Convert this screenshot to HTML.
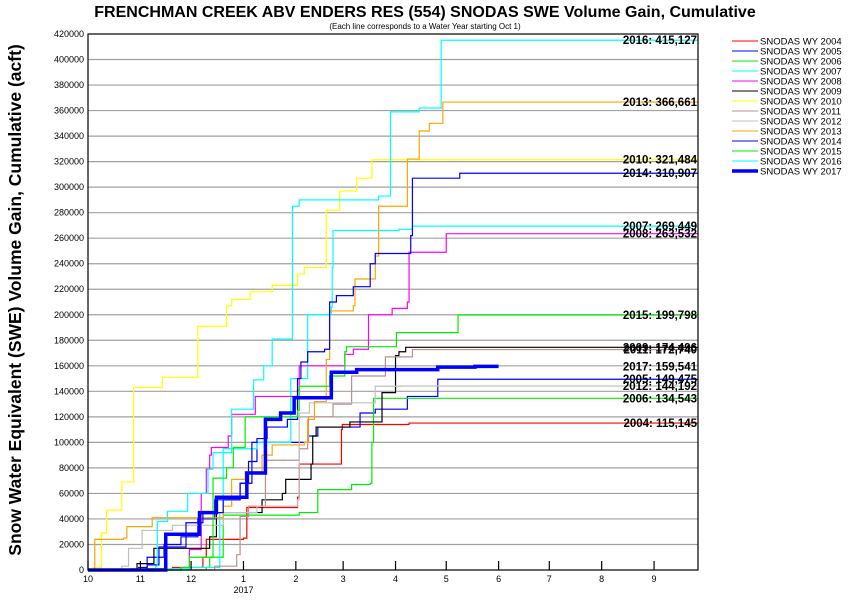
<!DOCTYPE html>
<html><head><meta charset="utf-8"><style>
body{margin:0;background:#fff;font-family:"Liberation Sans",Arial,sans-serif}
svg{display:block}
</style></head><body>
<svg id="chart" width="850" height="600" xmlns="http://www.w3.org/2000/svg">
<text x="425" y="17" text-anchor="middle" font-size="16" font-weight="bold" fill="#000">FRENCHMAN CREEK ABV ENDERS RES (554) SNODAS SWE Volume Gain, Cumulative</text>
<text x="425" y="29" text-anchor="middle" font-size="8" fill="#000">(Each line corresponds to a Water Year starting Oct 1)</text>
<text transform="translate(21,300) rotate(-90)" text-anchor="middle" font-size="17.5" font-weight="bold" fill="#000">Snow Water Equivalent (SWE) Volume Gain, Cumulative (acft)</text>
<g id="grid"></g><g id="series"></g><g id="axes"></g><g id="labels"></g><g id="legend"></g>
</svg>
<script>
const yTicks=[0,20000,40000,60000,80000,100000,120000,140000,160000,180000,200000,220000,240000,260000,280000,300000,320000,340000,360000,380000,400000,420000];
const monthDays=[0,31,61,92,123,151,182,212,243,273,304,335];
const monthLabels=["10","11","12","1","2","3","4","5","6","7","8","9"];
const years=["2004","2005","2006","2007","2008","2009","2010","2011","2012","2013","2014","2015","2016","2017"];
const colors=["#ff0000","#0000ff","#00ee00","#00ffff","#ff00ff","#000000","#ffff00","#bc8f8f","#c0c0c0","#ffa500","#0000ff","#00ee00","#00ffff","#0000ff"];
const finals=[115145,149475,134543,269449,263532,174496,321484,172740,144192,366661,310907,199798,415127,159541];
const d2004=[0,50,68,70,92,94,124,125,145,150,150.5,190];
const v2004=[0,2,10,24,25,49,57,83,83,110,114,115.145];
const d2005=[0,30,35,45,55,65,75,90,95,100,130,136,161,170,189,207];
const v2005=[0,2,10,20,26,40,55,68,85,100,105,112,123,126,136,149.475];
const d2006=[0,70,72,80,125,136,156,167,168,169];
const v2006=[0,2,10,43,45,63,67,68,100,134.543];
const d2007=[0,25,60,78,80,100,120,130,144,144.5,145,184,192];
const v2007=[0,1,2,45,95,100,150,200,206,237,266,267,269.449];
const d2008=[0,55,60,67,70,72,73,83,85,99,124,125,152,157,166,180,189,190,212];
const v2008=[0,2,16,60,79,90,96,105,122,136,141,160,169,173,200,205,210,249,263.532];
const d2009=[0,29,39,72,76,103,115,117,132,133,135,155,174,182,184,188];
const v2009=[0,5,17,26,45,55,60,71,83,105,112,116,139,168,171,174.496];
const d2010=[0,3,8,11,20,27,44,65,82,85,96,109,124,128,141,149,159,168];
const v2010=[0,2,29,47,69,143,151,191,207,212,218,223,232,237,282,297,307,321.484];
const d2011=[0,75,88,90,95,105,125,130,130.5,145,156,175,176,192];
const v2011=[0,3,12,42,50,86,95,100,120,130,152,152,167,172.74];
const d2012=[0,20,24,32,50,80,100,124,125,131,170,185];
const v2012=[0,3,17,31,35,45,50,55,123,131,144,144.192];
const d2013=[0,4,21,23,38,80,85,93,103,109,128,130,134,141,143,157,158,170,172,189,196,202,210];
const v2013=[0,24,25,34,41,50,71,77,90,98,100,118,132,165,203,207,228,246,285,322,344,350,366.661];
const d2014=[0,35,42,58,68,80,90,97,100,106,118,124,126,130,140,143,147,157,167,170,191,192,220];
const v2014=[0,4,18,37,45,55,68,100,103,112,118,150,163,171,173,210,215,222,240,248,262,307,310.907];
const d2015=[0,55,60,73,74,82,86,93,124,125,143,152,153,182,182.5,218,219];
const v2015=[0,2,10,10,72,80,96,120,125,144,152,171,175,175,186,186,199.798];
const d2016=[0,40,41,47,59,71,74,85,98,104,109,121,125,172,179,196,209];
const v2016=[0,3,38,46,60,79,92,126,149,160,181,285,290,293,359,362,415.127];
const d2017=[0,44,46,66,76,94,105,114,122,144,159,207,229,243];
const v2017=[0,0,28,45,57,76,118,123,135,155,157,159,159.541,159.541];
const dayArrs=[d2004,d2005,d2006,d2007,d2008,d2009,d2010,d2011,d2012,d2013,d2014,d2015,d2016,d2017];
const valArrs=[v2004,v2005,v2006,v2007,v2008,v2009,v2010,v2011,v2012,v2013,v2014,v2015,v2016,v2017];

const NS="http://www.w3.org/2000/svg";
const L=88,R=698,T=34,B=570,MAXD=361,MAXV=420000;
const xS=d=>L+d*(R-L)/MAXD;
const yS=v=>B-v*(B-T)/MAXV;
function mk(tag,attrs,parent){const e=document.createElementNS(NS,tag);for(const k in attrs)e.setAttribute(k,attrs[k]);parent.appendChild(e);return e;}
const grid=document.getElementById('grid'),axes=document.getElementById('axes'),ser=document.getElementById('series'),lab=document.getElementById('labels'),leg=document.getElementById('legend');
yTicks.forEach(v=>{
  if(v>0&&v<MAXV){const g=mk('line',{x1:L,x2:R,y1:yS(v),y2:yS(v),stroke:'#a0a0a0','stroke-width':1.2},grid);
  
  }
  const t=mk('text',{x:L-4,y:yS(v)+3,'text-anchor':'end','font-size':9,fill:'#000'},axes);
  
  
  t.textContent=v;
});
const fr=mk('rect',{x:L,y:T,width:R-L,height:B-T,fill:'none',stroke:'#000','stroke-width':1.2},axes);


monthDays.forEach((d,i)=>{
  const tk=mk('line',{x1:xS(d),x2:xS(d),y1:B,y2:B-9,stroke:'#000','stroke-width':1.2},axes);
  
  
  const t=mk('text',{x:xS(d),y:B+12,'text-anchor':'middle','font-size':9,fill:'#000'},axes);
  
  
  t.textContent=monthLabels[i];
});
const yr=mk('text',{x:xS(92),y:B+23,'text-anchor':'middle','font-size':9,fill:'#000'},axes);


yr.textContent='2017';
years.forEach((y,i)=>{
  const ds=dayArrs[i],vs=valArrs[i];
  let p='M'+xS(ds[0])+','+yS(vs[0]*1000);
  for(let k=1;k<ds.length;k++){p+=' L'+xS(ds[k])+','+yS(vs[k-1]*1000)+' L'+xS(ds[k])+','+yS(vs[k]*1000);}
  if(i<13)p+=' L'+R+','+yS(vs[vs.length-1]*1000);
  const path=mk('path',{d:p,fill:'none',stroke:colors[i],'stroke-width':i===13?3.5:1.2},ser);
  
  
  const t=mk('text',{x:R-1,y:yS(finals[i])+4,'text-anchor':'end','font-size':11.5,'font-weight':'bold',fill:'#000'},lab);
  
  
  t.textContent=y+': '+finals[i].toLocaleString('en-US');
  const ly=41+i*10;
  const ll=mk('line',{x1:732,x2:758,y1:ly,y2:ly,stroke:colors[i],'stroke-width':i===13?3.5:1},leg);
  
  
  const lt=mk('text',{x:760,y:ly+3.5,'font-size':9.5,fill:'#000'},leg);
  
  
  lt.textContent='SNODAS WY '+y;
});
</script>
</body></html>
